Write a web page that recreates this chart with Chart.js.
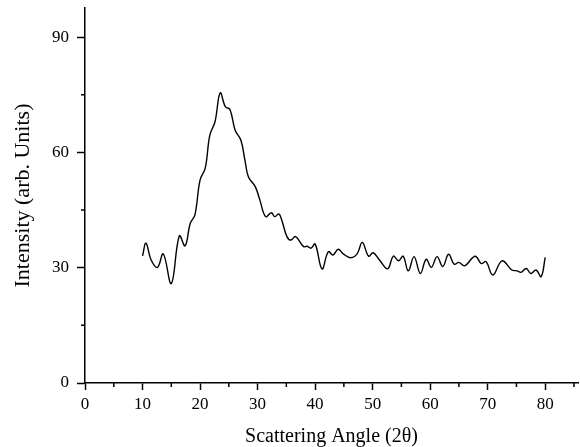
<!DOCTYPE html>
<html>
<head>
<meta charset="utf-8">
<script src="https://cdn.jsdelivr.net/npm/chart.js@4/dist/chart.umd.min.js"></script>
<style>
  html, body { margin: 0; padding: 0; background: #fff; }
  #wrap { width: 580px; height: 447px; }
</style>
</head>
<body>
<div id="wrap"><canvas id="xrdChart" width="580" height="447"></canvas></div>
<script>
// scattering angle (2θ)
const angles = [10.0, 10.6, 11.5, 12.6, 13.6, 15.0, 16.4, 17.4, 18.3, 19.1,
  20.0, 20.9, 21.7, 22.6, 23.5, 24.4, 25.2, 26.1, 27.1, 27.8,
  28.4, 29.6, 30.4, 31.4, 32.4, 33.0, 33.7, 34.2, 35.1, 35.8,
  36.6, 38.0, 38.6, 39.3, 40.0, 41.2, 42.3, 43.1, 44.0, 44.9,
  46.2, 47.3, 48.2, 49.3, 50.1, 51.2, 52.6, 53.6, 54.5, 55.3,
  56.2, 57.2, 58.3, 59.3, 60.2, 61.2, 62.2, 63.2, 64.2, 65.0,
  66.0, 67.8, 68.9, 69.7, 70.9, 72.5, 74.2, 75.1, 75.8, 76.7,
  77.5, 78.4, 79.3, 80.0];
// intensity (arb. units)
const intensity = [33.1, 36.4, 32.0, 30.1, 33.6, 25.9, 38.3, 35.7, 41.6, 43.7,
  52.8, 55.9, 64.5, 68.0, 75.5, 71.9, 71.2, 65.8, 63.2, 58.0,
  53.7, 51.1, 47.6, 43.3, 44.3, 43.3, 44.0, 42.4, 38.1, 37.2,
  38.1, 35.5, 35.6, 35.1, 36.2, 29.7, 34.2, 33.3, 34.8, 33.6,
  32.6, 33.6, 36.6, 33.0, 33.9, 32.0, 29.7, 33.0, 31.8, 33.0,
  29.2, 32.9, 28.5, 32.2, 30.1, 32.9, 30.3, 33.5, 30.9, 31.4,
  30.5, 33.0, 31.1, 31.6, 28.1, 31.8, 29.4, 29.2, 28.8, 29.8,
  28.5, 29.4, 27.7, 32.7];
// minor tick positions (majors come from stepSize)
const xMinor = [5, 15, 25, 35, 45, 55, 65, 75, 85];
const yMinor = [15, 45, 75];

const serif = '"Liberation Serif", "Times New Roman", serif';

// short minor ticks, placed through the chart's own scales
const minorTicks = {
    id: 'minorTicks',
    afterDraw(chart) {
        const { ctx, scales: { x, y } } = chart;
        ctx.save();
        ctx.strokeStyle = '#000';
        ctx.lineWidth = 1.5;
        ctx.beginPath();
        xMinor.forEach(v => {
            const px = x.getPixelForValue(v);
            ctx.moveTo(px, x.top);
            ctx.lineTo(px, x.top + 4);
        });
        yMinor.forEach(v => {
            const py = y.getPixelForValue(v);
            ctx.moveTo(y.right, py);
            ctx.lineTo(y.right - 4, py);
        });
        ctx.stroke();
        ctx.restore();
    }
};

new Chart(document.getElementById('xrdChart'), {
    type: 'scatter',
    data: {
        datasets: [{
            data: angles.map((a, i) => ({ x: a, y: intensity[i] })),
            showLine: true,
            borderColor: '#000',
            borderWidth: 1.4,
            pointRadius: 0,
            tension: 0.4,
            fill: false
        }]
    },
    options: {
        responsive: false,
        animation: false,
        layout: { padding: { top: 8, right: 2, left: 0, bottom: 0 } },
        plugins: { legend: { display: false }, tooltip: { enabled: false } },
        scales: {
            x: {
                type: 'linear',
                min: 0,
                max: 85.7,
                border: { color: '#000', width: 1.5 },
                grid: { drawOnChartArea: false, drawTicks: true, tickLength: 7, tickColor: '#000', tickWidth: 1.5 },
                ticks: {
                    stepSize: 10,
                    includeBounds: false,
                    autoSkip: false,
                    maxRotation: 0,
                    color: '#000',
                    padding: 4,
                    font: { family: serif, size: 17 }
                },
                title: {
                    display: true,
                    text: 'Scattering Angle (2θ)',
                    color: '#000',
                    font: { family: serif, size: 20, lineHeight: 1 },
                    padding: { top: 10, bottom: 0 }
                },
                afterFit: s => { s.height = 64; }
            },
            y: {
                type: 'linear',
                min: 0,
                max: 97.6,
                border: { color: '#000', width: 1.5 },
                grid: { drawOnChartArea: false, drawTicks: true, tickLength: 8, tickColor: '#000', tickWidth: 1.5 },
                ticks: {
                    stepSize: 30,
                    includeBounds: false,
                    autoSkip: false,
                    color: '#000',
                    padding: 8,
                    font: { family: serif, size: 17 }
                },
                title: {
                    display: true,
                    text: 'Intensity (arb. Units)',
                    color: '#000',
                    font: { family: serif, size: 22 },
                    padding: { top: 10, bottom: 10 }
                },
                afterFit: s => { s.width = 85; s.paddingTop = 0; }
            }
        }
    },
    plugins: [minorTicks]
});
</script>
</body>
</html>
